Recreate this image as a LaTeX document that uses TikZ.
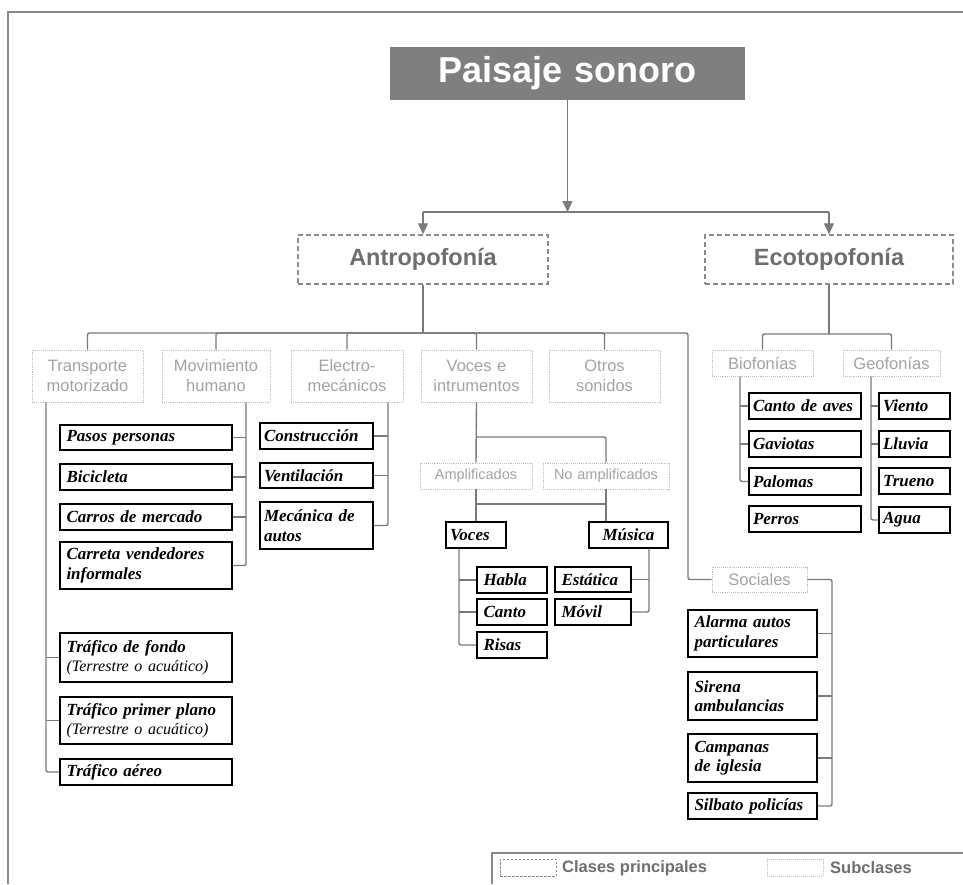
\documentclass[tikz,border=0pt]{standalone}
\usepackage{fontspec}
\setmainfont{Liberation Serif}
\setsansfont{Liberation Sans}
\usetikzlibrary{arrows.meta}
\definecolor{lineg}{HTML}{7A7A7A}
\definecolor{titleg}{HTML}{7F7F7F}
\definecolor{mainb}{HTML}{8A8A8A}
\definecolor{maintxt}{HTML}{6E6E6E}
\definecolor{subb}{HTML}{BDBDBD}
\definecolor{subtxt}{HTML}{A3A3A3}
\newcommand\mkbox[7]{%
  \pgfmathsetmacro\mkcx{(#3+#4)/2}%
  \pgfmathsetmacro\mkcy{(#5+#6)/2}%
  \pgfmathsetmacro\mkbw{#4-#3}%
  \pgfmathsetmacro\mkbh{#6-#5}%
  \pgfmathsetmacro\mktw{#4-#3-8}%
  \node[#1, minimum width=\mkbw pt, minimum height=\mkbh pt, text width=\mktw pt, inner xsep=4pt, inner ysep=0pt] (#2) at (\mkcx,\mkcy) {#7};}
\tikzset{
  titlebox/.style={fill=titleg, text=white, align=center, font=\sffamily\bfseries\fontsize{36}{40}\selectfont},
  mainbox/.style={draw=mainb, dash pattern=on 5pt off 3pt, line width=1.5pt, text=maintxt, align=center, font=\sffamily\bfseries\fontsize{23.5}{28}\selectfont},
  subbox/.style={draw=subb, densely dotted, line width=0.9pt, text=subtxt, align=center, font=\sffamily\fontsize{16.5}{20}\selectfont},
  smallsub/.style={subbox, font=\sffamily\fontsize{14.5}{17}\selectfont},
  leafbox/.style={draw=black, line width=1.3pt, align=left, font=\fontsize{17}{19.5}\selectfont\bfseries\itshape},
  leaftxt/.style={},
  conn/.style={draw=lineg, line width=1.4pt, rounded corners=2pt},
  arr/.style={conn, -{Triangle[length=11pt,width=10pt]}},
  frame/.style={draw=mainb, line width=1.3pt},
  legtxt/.style={text=maintxt, anchor=west, inner sep=0pt, font=\sffamily\bfseries\fontsize{16.5}{20}\selectfont}
}
\newcommand\sublbl[1]{{\mdseries\fontsize{16}{19.5}\selectfont #1}}
\newcommand\lf[1]{\hspace*{2.5pt}#1}
\begin{document}
\begin{tikzpicture}[x=1pt, y=-1pt]
\useasboundingbox (0,0) rectangle (963,884);
\fill[white] (0,0) rectangle (963,884);
% frame
\draw[frame] (8,884) -- (8,12) -- (963,12);
% top levels
\mkbox{titlebox}{title}{390}{745}{47}{100}{Paisaje sonoro}
\mkbox{mainbox}{antro}{298}{548}{235}{284}{Antropofonía}
\mkbox{mainbox}{eco}{705}{953}{235}{284}{Ecotopofonía}
% subclasses
\mkbox{subbox}{trans}{32}{143}{350}{402}{Transporte\\motorizado}
\mkbox{subbox}{mov}{162}{270}{350}{402}{Movimiento\\humano}
\mkbox{subbox}{elec}{291}{403}{350}{402}{Electro-\\mecánicos}
\mkbox{subbox}{voc}{421}{532}{350}{402}{Voces e\\intrumentos}
\mkbox{subbox}{otros}{549}{660}{350}{402}{Otros\\sonidos}
\mkbox{smallsub}{ampl}{420}{532}{463}{489}{Amplificados}
\mkbox{smallsub}{noampl}{543}{669}{463}{489}{No amplificados}
\mkbox{subbox}{soc}{712}{807}{567}{592}{Sociales}
\mkbox{subbox}{bio}{712}{813}{350}{376}{Biofonías}
\mkbox{subbox}{geo}{843}{940}{350}{376}{Geofonías}
% leaves
\mkbox{leafbox}{pasos}{60}{232}{425}{450}{\lf{Pasos personas}}
\mkbox{leafbox}{bici}{60}{232}{464}{490}{\lf{Bicicleta}}
\mkbox{leafbox}{carros}{60}{232}{504}{530}{\lf{Carros de mercado}}
\mkbox{leafbox}{carreta}{60}{232}{542}{589}{\lf{Carreta vendedores}\\\lf{informales}}
\mkbox{leafbox}{tfondo}{60}{232}{633}{682}{\lf{Tráfico de fondo}\\\lf{\sublbl{(Terrestre o acuático)}}}
\mkbox{leafbox}{tprimer}{60}{232}{697}{744}{\lf{Tráfico primer plano}\\\lf{\sublbl{(Terrestre o acuático)}}}
\mkbox{leafbox}{taereo}{60}{232}{759}{785}{\lf{Tráfico aéreo}}
\mkbox{leafbox}{constr}{260}{373}{423}{449}{Construcción}
\mkbox{leafbox}{vent}{260}{373}{463}{488}{Ventilación}
\mkbox{leafbox}{mec}{260}{373}{502}{549}{Mecánica de\\autos}
\mkbox{leafbox}{voces}{446}{506}{522}{548}{Voces}
\mkbox{leafbox}{musica}{589}{668}{522}{548}{\hfill Música\hfill\mbox{}}
\mkbox{leafbox}{habla}{477}{547}{567}{593}{\lf{Habla}}
\mkbox{leafbox}{canto}{477}{547}{599}{625}{\lf{Canto}}
\mkbox{leafbox}{risas}{477}{547}{632}{658}{\lf{Risas}}
\mkbox{leafbox}{estat}{555}{631}{567}{592}{\lf{Estática}}
\mkbox{leafbox}{movil}{555}{631}{599}{625}{\lf{Móvil}}
\mkbox{leafbox}{alarma}{688}{817}{610}{657}{\lf{Alarma autos}\\\lf{particulares}}
\mkbox{leafbox}{sirena}{688}{817}{672}{720}{\lf{Sirena}\\\lf{ambulancias}}
\mkbox{leafbox}{campanas}{688}{817}{734}{782}{\lf{Campanas}\\\lf{de iglesia}}
\mkbox{leafbox}{silbato}{688}{817}{793}{819}{\lf{Silbato policías}}
\mkbox{leafbox}{aves}{749}{861}{393}{419}{Canto de aves}
\mkbox{leafbox}{gav}{749}{861}{431}{457}{Gaviotas}
\mkbox{leafbox}{palomas}{749}{861}{468}{495}{Palomas}
\mkbox{leafbox}{perros}{749}{861}{506}{532}{Perros}
\mkbox{leafbox}{viento}{879}{950}{393}{419}{Viento}
\mkbox{leafbox}{lluvia}{879}{950}{431}{457}{Lluvia}
\mkbox{leafbox}{trueno}{879}{950}{468}{494}{Trueno}
\mkbox{leafbox}{agua}{879}{950}{507}{533}{Agua}
% helper coordinates
\coordinate (hT) at (567.5,212);
\coordinate (hA) at (423,333);
\coordinate (sj) at (688,579.5);
\coordinate (hE) at (829,334);
\coordinate (vy) at (0,437);
\coordinate (ay) at (0,504);
\coordinate (tl) at (46,0);
\coordinate (ml) at (246,0);
\coordinate (el) at (388,0);
\coordinate (vl) at (459,0);
\coordinate (mr) at (649,0);
\coordinate (sr) at (832,0);
\coordinate (bl) at (740,0);
\coordinate (gl) at (871,0);
% title connectors
\draw[arr] (title.south) -- (hT);
\draw[conn, rounded corners=0pt] (antro.north |- hT) -- (eco.north |- hT);
\draw[arr] (antro.north |- hT) -- (antro.north);
\draw[arr] (eco.north |- hT) -- (eco.north);
% antropofonia
\draw[conn] (antro.south) -- (hA);
\draw[conn] (trans.north) |- (hA);
\draw[conn] (mov.north) |- (hA);
\draw[conn] (elec.north) |- (hA);
\draw[conn] (voc.north) |- (hA);
\draw[conn] (otros.north) |- (hA);
\draw[conn] (hA) -| (sj) -- (soc.west);
% transporte
\draw[conn] (tl |- trans.south) |- (taereo.west);
\draw[conn] (tl |- tfondo.west) -- (tfondo.west);
\draw[conn] (tl |- tprimer.west) -- (tprimer.west);
% movimiento
\draw[conn] (ml |- mov.south) |- (carreta.east);
\draw[conn] (pasos.east) -- (ml |- pasos.east);
\draw[conn] (bici.east) -- (ml |- bici.east);
\draw[conn] (carros.east) -- (ml |- carros.east);
% electro
\draw[conn] (el |- elec.south) |- (mec.east);
\draw[conn] (constr.east) -- (el |- constr.east);
\draw[conn] (vent.east) -- (el |- vent.east);
% voces e instrumentos
\draw[conn] (voc.south) -- (ampl.north);
\draw[conn] (voc.south |- vy) -| (noampl.north);
\draw[conn] (ampl.south) -- (voces.north);
\draw[conn] (noampl.south) -- (noampl.south |- musica.north);
\draw[conn] (ampl.south |- ay) -- (noampl.south |- ay);
\draw[conn] (vl |- voces.south) |- (risas.west);
\draw[conn] (vl |- habla.west) -- (habla.west);
\draw[conn] (vl |- canto.west) -- (canto.west);
\draw[conn] (mr |- musica.south) |- (movil.east);
\draw[conn] (estat.east) -- (mr |- estat.east);
% sociales
\draw[conn] (soc.east) -| (sr |- silbato.east) -- (silbato.east);
\draw[conn] (alarma.east) -- (sr |- alarma.east);
\draw[conn] (sirena.east) -- (sr |- sirena.east);
\draw[conn] (campanas.east) -- (sr |- campanas.east);
% ecotopofonia
\draw[conn] (eco.south) -- (hE);
\draw[conn] (bio.north) |- (hE) -| (geo.north);
\draw[conn] (bl |- bio.south) |- (palomas.west);
\draw[conn] (bl |- aves.west) -- (aves.west);
\draw[conn] (bl |- gav.west) -- (gav.west);
\draw[conn] (gl |- geo.south) |- (agua.west);
\draw[conn] (gl |- viento.west) -- (viento.west);
\draw[conn] (gl |- lluvia.west) -- (lluvia.west);
% legend
\draw[frame] (492,884) -- (492,853) -- (963,853);
\node[draw=mainb, dash pattern=on 2.5pt off 1.5pt, line width=1pt, minimum width=56pt, minimum height=17pt, inner sep=0pt] (legmain) at (528,867.5) {};
\node[legtxt] (legmaintxt) at (562,868) {Clases principales};
\node[draw=subb, densely dotted, line width=1pt, minimum width=56pt, minimum height=17pt, inner sep=0pt] (legsub) at (795,867.5) {};
\node[legtxt] (legsubtxt) at (830,868) {Subclases};
\end{tikzpicture}
\end{document}
